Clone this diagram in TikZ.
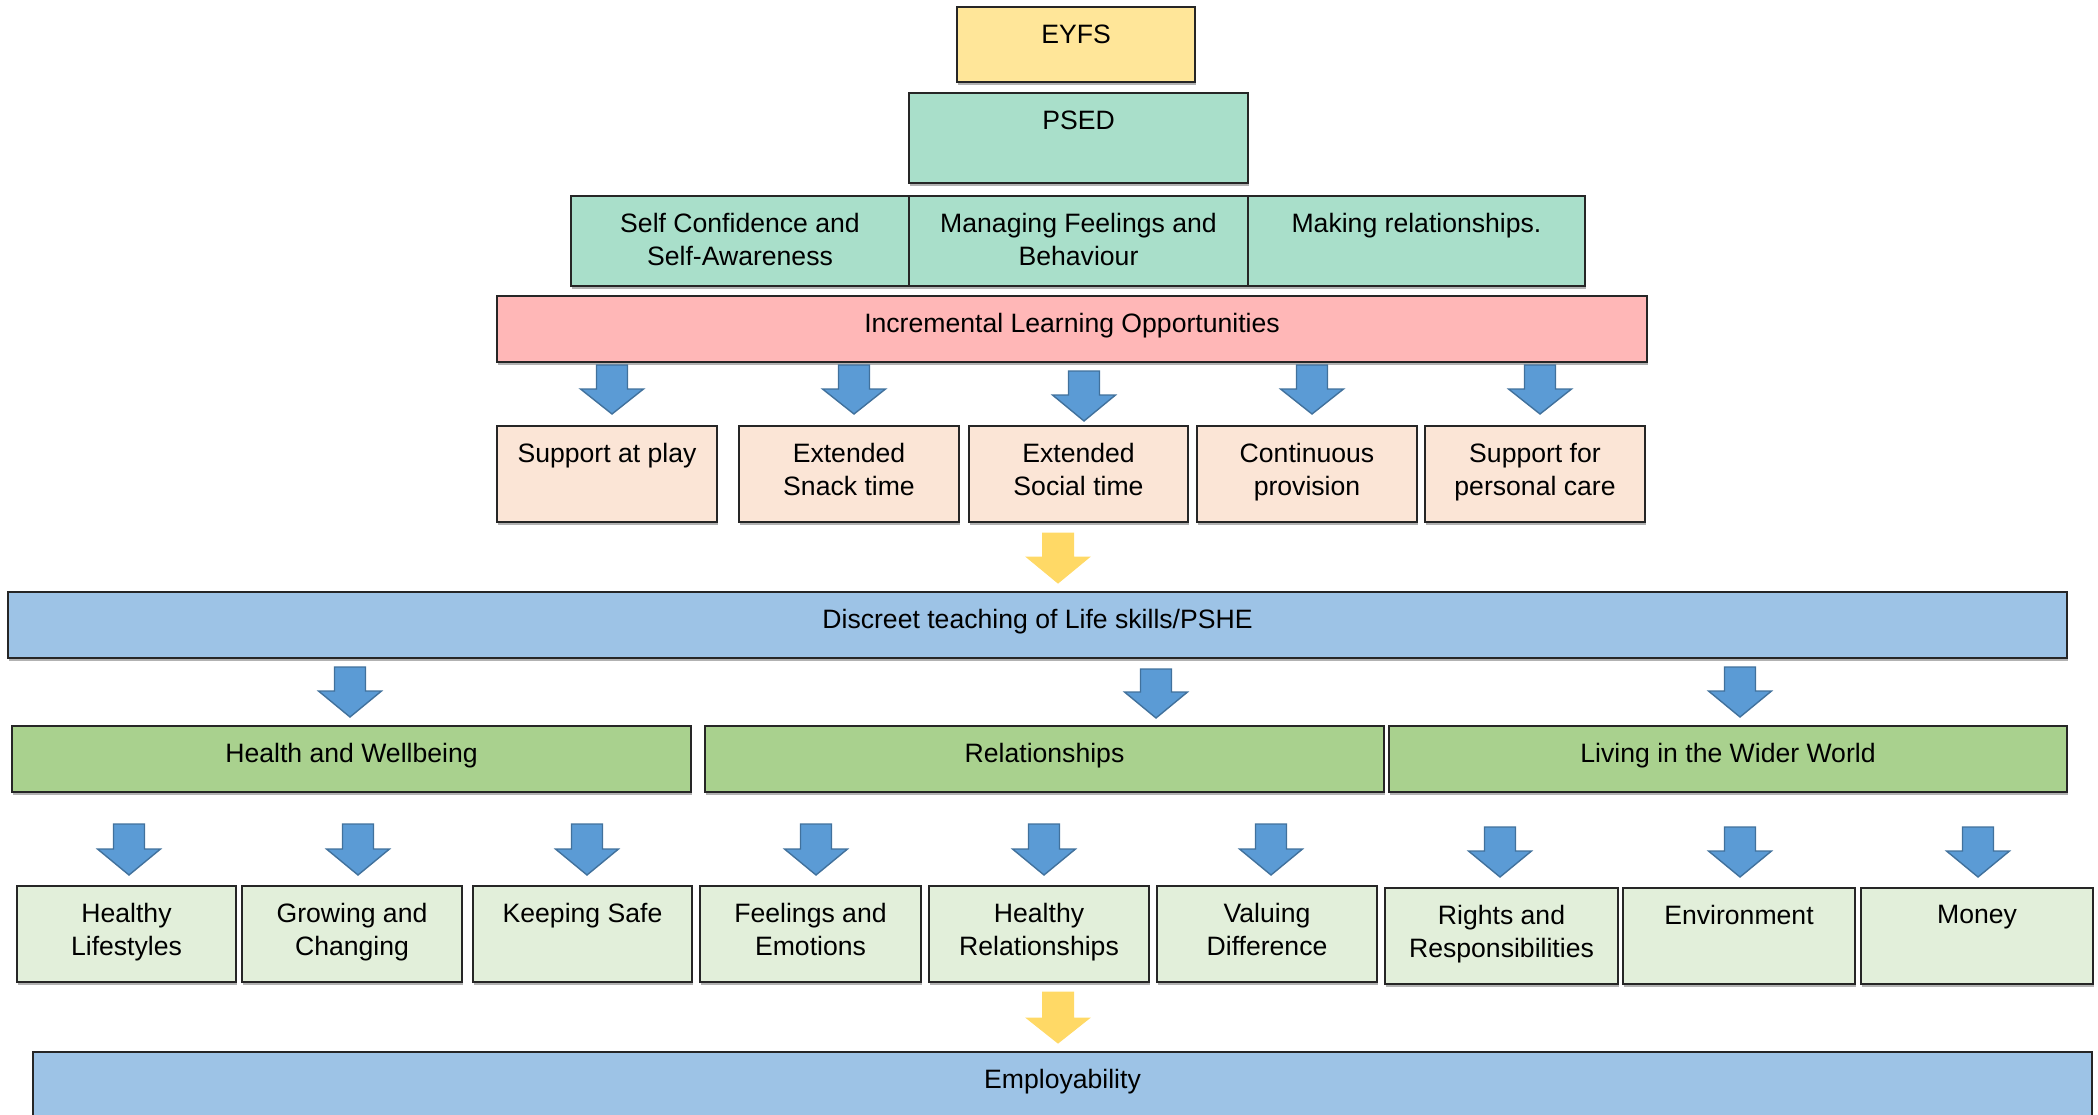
\documentclass[tikz,border=0pt]{standalone}
\usepackage{fontspec}
\setmainfont{Liberation Sans}
\usetikzlibrary{fit}

\definecolor{eyfsY}{HTML}{FFE699}
\definecolor{psedT}{HTML}{A9DFCA}
\definecolor{incrP}{HTML}{FFB7B7}
\definecolor{peach}{HTML}{FBE5D6}
\definecolor{skyB}{HTML}{9DC3E6}
\definecolor{leafG}{HTML}{A9D18E}
\definecolor{paleG}{HTML}{E2EFDA}
\definecolor{arrowB}{HTML}{5B9BD5}
\definecolor{arrowEdge}{HTML}{41719C}
\definecolor{arrowY}{HTML}{FFD966}

\tikzset{
  box/.style={draw=black!85, line width=0.8pt, inner sep=0pt, outer sep=0pt},
  boxshadow/.style={fill=black!30},
  lbl/.style={font=\fontsize{13.3}{16.3}\selectfont, align=center, inner sep=0pt, anchor=north, text=black},
  bluearrow/.style={fill=arrowB, draw=arrowEdge, line width=0.7pt, line join=miter},
  goldarrow/.style={fill=arrowY, draw=arrowY, line width=0.5pt},
}

% box: name, x1, y1, x2, y2, fill colour, text (text sits near the top edge)
\newcommand\pbox[7]{%
  \fill[boxshadow] (#2+1,#3+2) rectangle (#4+1,#5+2.5);
  \node[box, fill=#6, fit={(#2,#3) (#4,#5)}] (#1) {};
  \node[lbl] (#1-t) at ([yshift=-8.6pt]#1.north) {#7};
}

% block arrow: centre x, top, head start, tip, style
\newcommand\barrow[5]{%
  \filldraw[#5] (#1-15.5,#2) -- (#1+15.5,#2) -- (#1+15.5,#3) -- (#1+31.5,#3)
    -- (#1,#4) -- (#1-31.5,#3) -- (#1-15.5,#3) -- cycle;
}

\begin{document}
\begin{tikzpicture}[x=0.5pt, y=-0.5pt]
\useasboundingbox (0,0) rectangle (2098,1114);
\clip (0,0) rectangle (2098,1114);

% early years strand
\pbox{eyfs}{957}{7}{1195}{82}{eyfsY}{EYFS}
\pbox{psed}{909}{93}{1248}{183}{psedT}{PSED}
\pbox{selfconf}{571}{196}{909}{286}{psedT}{Self Confidence and\\Self-Awareness}
\pbox{managing}{909}{196}{1248}{286}{psedT}{Managing Feelings and\\Behaviour}
\pbox{making}{1248}{196}{1585}{286}{psedT}{Making relationships.}
\pbox{incr}{497}{296}{1647}{362}{incrP}{Incremental Learning Opportunities}

% learning opportunities
\barrow{612}{365}{389}{414}{bluearrow}
\barrow{854}{365}{389}{414}{bluearrow}
\barrow{1084}{371}{395}{421}{bluearrow}
\barrow{1312}{365}{389}{414}{bluearrow}
\barrow{1540}{365}{389}{414}{bluearrow}

\pbox{play}{497}{426}{717}{522}{peach}{Support at play}
\pbox{snack}{739}{426}{959}{522}{peach}{Extended\\Snack time}
\pbox{social}{969}{426}{1188}{522}{peach}{Extended\\Social time}
\pbox{cont}{1197}{426}{1417}{522}{peach}{Continuous\\provision}
\pbox{care}{1425}{426}{1645}{522}{peach}{Support for\\personal care}

\barrow{1058}{533}{557}{583}{goldarrow}

% discrete teaching
\pbox{pshe}{8}{592}{2067}{658}{skyB}{Discreet teaching of Life skills/PSHE}

\barrow{350}{667}{691}{717}{bluearrow}
\barrow{1156}{669}{692}{718}{bluearrow}
\barrow{1740}{667}{691}{717}{bluearrow}

\pbox{health}{12}{726}{691}{792}{leafG}{Health and Wellbeing}
\pbox{rel}{705}{726}{1384}{792}{leafG}{Relationships}
\pbox{world}{1389}{726}{2067}{792}{leafG}{Living in the Wider World}

\barrow{129}{824}{849}{875}{bluearrow}
\barrow{358}{824}{849}{875}{bluearrow}
\barrow{587}{824}{849}{875}{bluearrow}
\barrow{816}{824}{849}{875}{bluearrow}
\barrow{1044}{824}{849}{875}{bluearrow}
\barrow{1271}{824}{849}{875}{bluearrow}
\barrow{1500}{827}{851}{877}{bluearrow}
\barrow{1740}{827}{851}{877}{bluearrow}
\barrow{1978}{827}{851}{877}{bluearrow}

\pbox{lifestyles}{17}{886}{236}{982}{paleG}{Healthy\\Lifestyles}
\pbox{growing}{242}{886}{462}{982}{paleG}{Growing and\\Changing}
\pbox{safe}{473}{886}{692}{982}{paleG}{Keeping Safe}
\pbox{feelings}{700}{886}{921}{982}{paleG}{Feelings and\\Emotions}
\pbox{healthyrel}{929}{886}{1149}{982}{paleG}{Healthy\\Relationships}
\pbox{valuing}{1157}{886}{1377}{982}{paleG}{Valuing\\Difference}
\pbox{rights}{1385}{888}{1618}{984}{paleG}{Rights and\\Responsibilities}
\pbox{environment}{1623}{888}{1855}{984}{paleG}{Environment}
\pbox{money}{1861}{888}{2093}{984}{paleG}{Money}

\barrow{1058}{992}{1018}{1043}{goldarrow}

\pbox{employ}{33}{1052}{2092}{1140}{skyB}{Employability}
\end{tikzpicture}
\end{document}
